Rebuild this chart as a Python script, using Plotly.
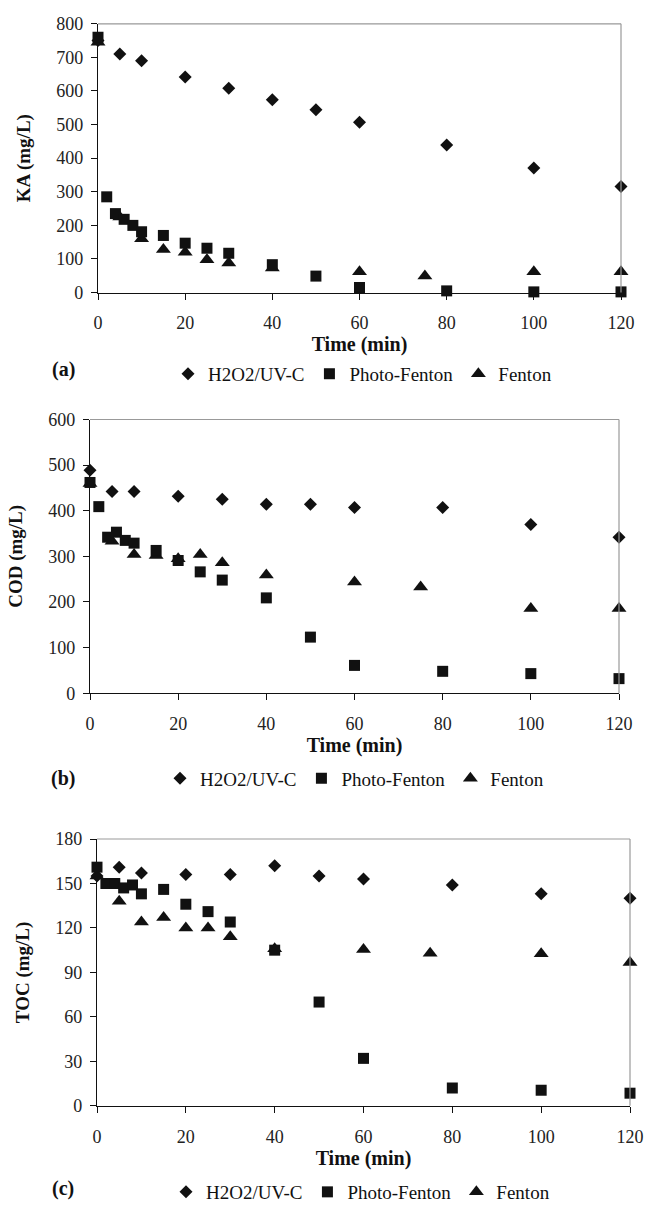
import plotly.graph_objects as go

# ---- data ----
t_uv = [0, 5, 10, 20, 30, 40, 50, 60, 80, 100, 120]
t_pf = [0, 2, 4, 6, 8, 10, 15, 20, 25, 30, 40, 50, 60, 80, 100, 120]
t_f = [0, 5, 10, 15, 20, 25, 30, 40, 60, 75, 100, 120]

ka_uv = [750, 710, 690, 642, 608, 574, 544, 507, 439, 371, 316]
ka_pf = [760, 285, 235, 218, 200, 181, 170, 147, 132, 117, 83, 49, 15, 5, 2, 2]
ka_f = [745, 225, 160, 128, 120, 98, 88, 73, 62, 49, 62, 62]

cod_uv = [489, 442, 442, 432, 425, 414, 414, 407, 407, 370, 342]
cod_pf = [462, 409, 342, 353, 335, 329, 313, 291, 266, 248, 209, 123, 61, 48, 43, 32]
cod_f = [460, 333, 304, 302, 295, 304, 286, 259, 244, 233, 186, 186]

toc_uv = [155, 161, 157, 156, 156, 162, 155, 153, 149, 143, 140]
toc_pf = [161, 150, 150, 147, 149, 143, 146, 136, 131, 124, 105, 70, 32, 12, 10.5, 8.5]
toc_f = [155, 138, 124, 127, 120, 120, 114, 106, 105.5, 103, 102.6, 96.6]

series_names = ["H2O2/UV-C", "Photo-Fenton", "Fenton"]
y_titles = ["KA (mg/L)", "COD (mg/L)", "TOC (mg/L)"]
y_ranges = [[0, 800], [0, 600], [0, 180]]
y_dticks = [100, 100, 30]
panel_labels = ["(a)", "(b)", "(c)"]
x_ticks = [0, 20, 40, 60, 80, 100, 120]

panels = [
    (ka_uv, ka_pf, ka_f),
    (cod_uv, cod_pf, cod_f),
    (toc_uv, toc_pf, toc_f),
]

W, H = 649, 1211
# pixel boxes of plot areas: (x0, x1, ytop, ybottom)
boxes = [(98, 621, 24, 295), (90, 619, 423, 699), (97, 630, 846, 1115)]
legend_pos = [(168, 377), (160, 785), (166, 1202)]
label_pos = [(63, 373), (63, 785), (63, 1198)]

FONT = "Liberation Serif"
INK = "#111111"

fig = go.Figure()

for i, (uv, pf, f) in enumerate(panels):
    k = "" if i == 0 else str(i + 1)
    xa, ya = "x" + k, "y" + k
    lg = "legend" + k
    fig.add_trace(go.Scatter(x=t_uv, y=uv, mode="markers", name=series_names[0],
                             marker=dict(symbol="diamond", size=10, color=INK),
                             xaxis=xa, yaxis=ya, legend=lg, legendrank=1, cliponaxis=False))
    fig.add_trace(go.Scatter(x=t_f, y=f, mode="markers", name=series_names[2],
                             marker=dict(symbol="triangle-up", size=13, color=INK),
                             xaxis=xa, yaxis=ya, legend=lg, legendrank=3, cliponaxis=False))
    fig.add_trace(go.Scatter(x=t_pf, y=pf, mode="markers", name=series_names[1],
                             marker=dict(symbol="square", size=11, color=INK),
                             xaxis=xa, yaxis=ya, legend=lg, legendrank=2, cliponaxis=False))

layout = dict(
    width=W, height=H,
    margin=dict(l=0, r=0, t=0, b=0),
    paper_bgcolor="white", plot_bgcolor="white",
    font=dict(family=FONT, size=18, color="#222222"),
    showlegend=True,
)

annotations = []
shapes = []
for i in range(3):
    k = "" if i == 0 else str(i + 1)
    x0, x1, yt, yb = boxes[i]
    layout["xaxis" + k] = dict(
        domain=[x0 / W, x1 / W], anchor="y" + k, range=[0, 120],
        tickvals=x_ticks, showgrid=False, zeroline=False,
        showline=True, linecolor="#111", linewidth=1.3,
        ticks="outside", ticklen=6, tickcolor="#111", tickwidth=1.2,
        ticklabelstandoff=8,
        tickfont=dict(family=FONT, size=18, color="#222"),
        title=dict(text="<b>Time (min)</b>", font=dict(family=FONT, size=20, color="#111"),
                   standoff=1),
        automargin=False, fixedrange=True,
    )
    layout["yaxis" + k] = dict(
        domain=[1 - yb / H, 1 - yt / H], anchor="x" + k, range=y_ranges[i],
        dtick=y_dticks[i], tick0=0, showgrid=False, zeroline=False,
        showline=True, linecolor="#111", linewidth=1.3,
        ticks="outside", ticklen=6, tickcolor="#111", tickwidth=1.2,
        ticklabelstandoff=4,
        tickfont=dict(family=FONT, size=18, color="#222"),
        title=dict(text="<b>" + y_titles[i] + "</b>", font=dict(family=FONT, size=19, color="#111"),
                   standoff=20),
        automargin=False, fixedrange=True,
    )
    # gray frame top and right
    shapes.append(dict(type="line", xref="x" + k + " domain", yref="y" + k + " domain",
                       x0=0, x1=1, y0=1, y1=1, line=dict(color="#999999", width=1.2)))
    shapes.append(dict(type="line", xref="x" + k + " domain", yref="y" + k + " domain",
                       x0=1, x1=1, y0=0, y1=1, line=dict(color="#999999", width=1.2)))
    lx, ly = legend_pos[i]
    layout["legend" + k] = dict(
        orientation="h", x=lx / W, y=1 - ly / H, xanchor="left", yanchor="middle",
        font=dict(family=FONT, size=19, color="#111"), bgcolor="rgba(0,0,0,0)",
        itemwidth=30, tracegroupgap=0,
    )
    px, py = label_pos[i]
    annotations.append(dict(text="<b>" + panel_labels[i] + "</b>", x=px / W, y=1 - py / H,
                            xref="paper", yref="paper", showarrow=False,
                            font=dict(family=FONT, size=20, color="#111"),
                            xanchor="center", yanchor="middle"))

layout["annotations"] = annotations
layout["shapes"] = shapes
fig.update_layout(**layout)

fig.write_html(
    "out.html",
    config={"displayModeBar": False},
    post_script="document.body.style.margin='0';document.body.style.overflow='hidden';",
)
